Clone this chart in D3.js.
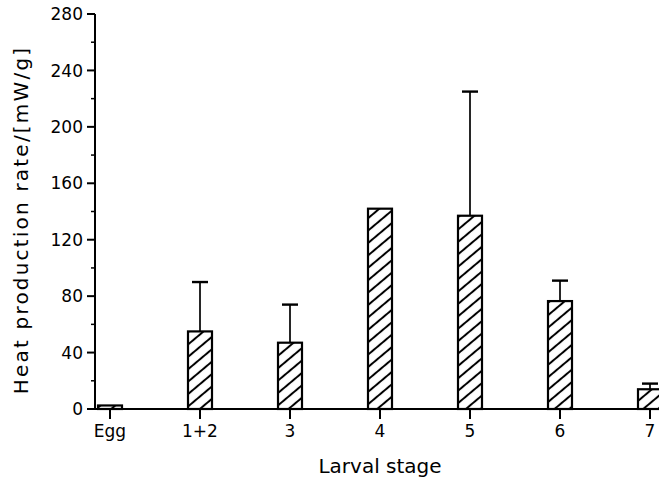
<!DOCTYPE html>
<html>
<head>
<meta charset="utf-8">
<script src="https://cdn.jsdelivr.net/npm/d3@7"></script>
<style>
  html, body { margin: 0; padding: 0; background: #fff; }
  svg { display: block; }
  text { font-family: "DejaVu Sans", sans-serif; fill: #000; }
</style>
</head>
<body>
<script>
// ---- data ----
const categories = ["Egg", "1+2", "3", "4", "5", "6", "7"];
const means      = [2.5, 55, 47, 142, 137, 76.5, 14];
const errorTops  = [null, 90, 74, null, 225, 91, 18];
const yTicks     = [0, 40, 80, 120, 160, 200, 240, 280];
const yMinorTicks = [20, 60, 100, 140, 180, 220, 260];
const xTitle = "Larval stage";
const yTitle = "Heat production rate/[mW/g]";

// ---- layout ----
const W = 659, H = 482;
const svg = d3.select("body").append("svg").attr("width", W).attr("height", H);

const x = d3.scalePoint().domain(categories).range([110, 650]);
const y = d3.scaleLinear().domain([0, 280]).range([409, 14]);
const barW = 24;
const axisX = 95;

// hatch pattern
const defs = svg.append("defs");
const pat = defs.append("pattern")
  .attr("id", "hatch")
  .attr("patternUnits", "userSpaceOnUse")
  .attr("width", 9.5).attr("height", 9.5)
  .attr("patternTransform", "rotate(-40)");
pat.append("rect").attr("width", 9.5).attr("height", 9.5).attr("fill", "#fff");
pat.append("line").attr("x1", 0).attr("x2", 9.5).attr("y1", 4.75).attr("y2", 4.75)
  .attr("stroke", "#000").attr("stroke-width", 2);

// baseline (x axis)
svg.append("line")
  .attr("x1", axisX).attr("x2", W).attr("y1", y(0)).attr("y2", y(0))
  .attr("stroke", "#000").attr("stroke-width", 2);

// error bars
const data = categories.map((c, i) => ({c, v: means[i], e: errorTops[i]}));
const eb = svg.append("g");
data.filter(d => d.e != null).forEach(d => {
  eb.append("line")
    .attr("x1", x(d.c)).attr("x2", x(d.c))
    .attr("y1", y(d.v)).attr("y2", y(d.e))
    .attr("stroke", "#000").attr("stroke-width", 1.7);
  eb.append("line")
    .attr("x1", x(d.c) - 8).attr("x2", x(d.c) + 8)
    .attr("y1", y(d.e)).attr("y2", y(d.e))
    .attr("stroke", "#000").attr("stroke-width", 2.4);
});

// bars
svg.append("g").selectAll("rect").data(data).join("rect")
  .attr("x", d => x(d.c) - barW / 2)
  .attr("width", barW)
  .attr("y", d => y(d.v))
  .attr("height", d => y(0) - y(d.v))
  .attr("fill", "url(#hatch)")
  .attr("stroke", "#000").attr("stroke-width", 2.2);

// x axis ticks and labels
const xa = svg.append("g");
categories.forEach(c => {
  xa.append("line").attr("x1", x(c)).attr("x2", x(c))
    .attr("y1", y(0)).attr("y2", y(0) + 10)
    .attr("stroke", "#000").attr("stroke-width", 2);
  xa.append("text").attr("x", x(c)).attr("y", 437)
    .attr("text-anchor", "middle").attr("font-size", 17).text(c);
});

// y axis
const ya = svg.append("g");
ya.append("line").attr("x1", axisX).attr("x2", axisX)
  .attr("y1", y(280)).attr("y2", y(0))
  .attr("stroke", "#000").attr("stroke-width", 2);
yTicks.forEach(t => {
  ya.append("line").attr("x1", axisX - 8).attr("x2", axisX)
    .attr("y1", y(t)).attr("y2", y(t))
    .attr("stroke", "#000").attr("stroke-width", 2);
  ya.append("text").attr("x", axisX - 12).attr("y", y(t))
    .attr("dy", "0.36em")
    .attr("text-anchor", "end").attr("font-size", 17).text(t);
});
yMinorTicks.forEach(t => {
  ya.append("line").attr("x1", axisX - 4).attr("x2", axisX)
    .attr("y1", y(t)).attr("y2", y(t))
    .attr("stroke", "#000").attr("stroke-width", 1.5);
});

// titles
svg.append("text").attr("x", 380).attr("y", 473)
  .attr("text-anchor", "middle").attr("font-size", 20)
  .text(xTitle);
svg.append("text")
  .attr("transform", "translate(28,220) rotate(-90)")
  .attr("text-anchor", "middle").attr("font-size", 20)
  .attr("letter-spacing", "2.2px")
  .text(yTitle);
</script>
</body>
</html>
